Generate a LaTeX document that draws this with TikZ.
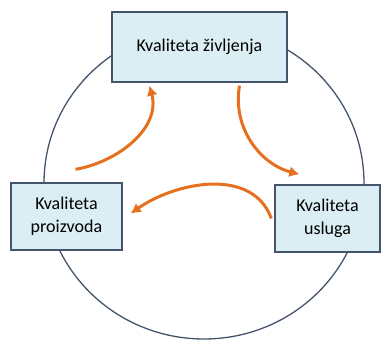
\documentclass[tikz,border=0pt]{standalone}
\usepackage{fontspec}
\setmainfont{Carlito}
\usetikzlibrary{arrows.meta}
\definecolor{boxfill}{RGB}{219,238,244}
\definecolor{boxline}{RGB}{68,84,106}
\definecolor{flowcol}{RGB}{230,112,30}
\tikzset{box/.style={draw=boxline,line width=1.3pt,fill=boxfill,
  align=center,inner sep=0pt,font=\fontsize{18}{23}\selectfont}}
\tikzset{flow/.style={draw=flowcol,line width=3pt,
  -{Latex[length=10pt,width=11pt]}}}
\begin{document}
\begin{tikzpicture}[x=1pt,y=1pt]
\useasboundingbox (0,0) rectangle (383,340);

\draw[boxline,line width=1.3pt] (204,157) ellipse (160 and 156);

\node[box,minimum width=175pt,minimum height=70pt] (life) at (199.5,293) {Kvaliteta življenja};
\node[box,minimum width=111pt,minimum height=67pt] (product) at (66.5,123.5) {Kvaliteta\\proizvoda};
\node[box,minimum width=105pt,minimum height=67pt] (service) at (327.5,121.5) {Kvaliteta\\usluga};

\draw[flow] ([shift={(9pt,13pt)}]product.north) to[out=10,in=-75] ([shift={(-50pt,-3pt)}]life.south);
\draw[flow] ([shift={(40pt,-3pt)}]life.south) to[out=-100,in=165] ([shift={(25pt,10pt)}]service.north west);
\draw[flow] ([shift={(-3pt,0pt)}]service.west) to[out=110,in=35] ([shift={(8pt,3pt)}]product.east);

\end{tikzpicture}
\end{document}
